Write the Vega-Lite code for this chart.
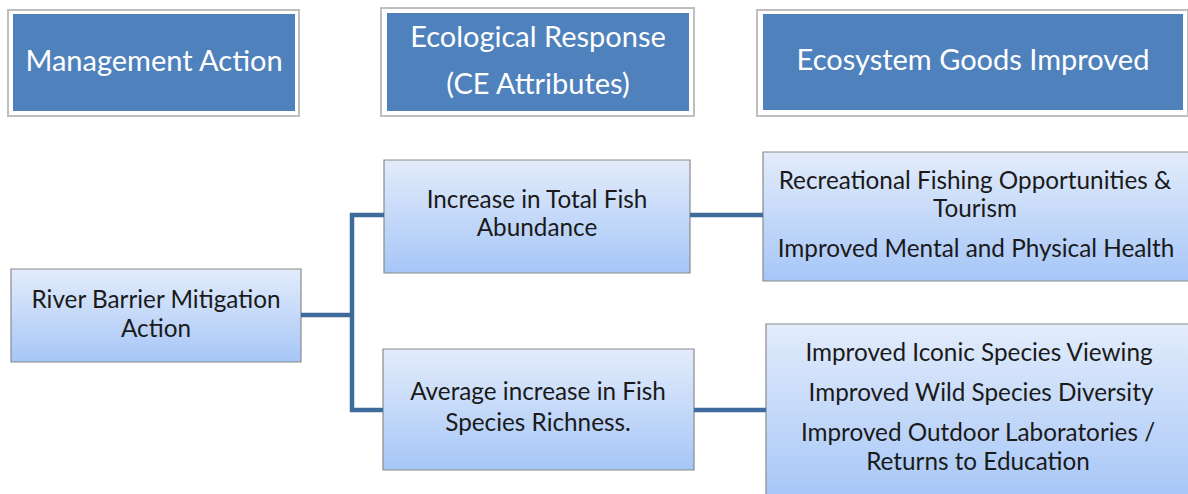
{
  "$schema": "https://vega.github.io/schema/vega-lite/v6.json",
  "width": 1188,
  "height": 494,
  "autosize": {"type": "none"},
  "padding": 0,
  "config": {"view": {"stroke": null}},
  "datasets": {
    "headers": [
      {"id": "h1", "x": 8, "x2": 299, "y": 10, "y2": 116, "ix": 13, "ix2": 295, "iy": 14, "iy2": 111},
      {"id": "h2", "x": 381, "x2": 694, "y": 8, "y2": 116, "ix": 387, "ix2": 689, "iy": 13, "iy2": 111},
      {"id": "h3", "x": 757, "x2": 1188, "y": 10, "y2": 116, "ix": 763, "ix2": 1183, "iy": 14, "iy2": 110}
    ],
    "boxes": [
      {"id": "mitigation", "x": 11, "x2": 301, "y": 269, "y2": 362},
      {"id": "abundance", "x": 384, "x2": 690, "y": 160, "y2": 273},
      {"id": "richness", "x": 383, "x2": 694, "y": 349, "y2": 470},
      {"id": "recreation", "x": 763, "x2": 1190, "y": 152, "y2": 281},
      {"id": "iconic", "x": 766, "x2": 1190, "y": 324, "y2": 500}
    ],
    "links": [
      {"x": 301, "x2": 352, "y": 315, "y2": 315},
      {"x": 352, "x2": 352, "y": 213, "y2": 412},
      {"x": 350, "x2": 384, "y": 215, "y2": 215},
      {"x": 350, "x2": 383, "y": 410, "y2": 410},
      {"x": 690, "x2": 763, "y": 215, "y2": 215},
      {"x": 694, "x2": 766, "y": 410, "y2": 410}
    ],
    "headerText": [
      {"label": "Management Action", "x": 154, "y": 62},
      {"label": "Ecological Response", "x": 538, "y": 38},
      {"label": "(CE Attributes)", "x": 538, "y": 85},
      {"label": "Ecosystem Goods Improved", "x": 973, "y": 61}
    ],
    "boxText": [
      {"label": "River Barrier Mitigation", "x": 156, "y": 301},
      {"label": "Action", "x": 156, "y": 330},
      {"label": "Increase in Total Fish", "x": 537, "y": 201},
      {"label": "Abundance", "x": 537, "y": 229},
      {"label": "Average increase in Fish", "x": 538, "y": 393},
      {"label": "Species Richness.", "x": 538, "y": 424},
      {"label": "Recreational Fishing Opportunities &", "x": 975, "y": 182},
      {"label": "Tourism", "x": 975, "y": 210},
      {"label": "Improved Mental and Physical Health", "x": 976, "y": 250},
      {"label": "Improved Iconic Species Viewing", "x": 979, "y": 354},
      {"label": "Improved Wild Species Diversity", "x": 981, "y": 394},
      {"label": "Improved Outdoor Laboratories /", "x": 978, "y": 434},
      {"label": "Returns to Education", "x": 978, "y": 463}
    ]
  },
  "layer": [
    {
      "data": {"name": "headers"},
      "mark": {"type": "rect", "fill": "#ffffff", "stroke": "#bfbfbf", "strokeWidth": 2},
      "encoding": {
        "x": {"field": "x", "type": "quantitative", "scale": {"domain": [0, 1188], "nice": false, "zero": false}, "axis": null},
        "x2": {"field": "x2"},
        "y": {"field": "y", "type": "quantitative", "scale": {"domain": [0, 494], "nice": false, "zero": false, "reverse": true}, "axis": null},
        "y2": {"field": "y2"}
      }
    },
    {
      "data": {"name": "headers"},
      "mark": {"type": "rect", "fill": "#4f81bd"},
      "encoding": {
        "x": {"field": "ix", "type": "quantitative"},
        "x2": {"field": "ix2"},
        "y": {"field": "iy", "type": "quantitative"},
        "y2": {"field": "iy2"}
      }
    },
    {
      "data": {"name": "boxes"},
      "mark": {"type": "rect", "fill": "#000000", "opacity": 0.18, "xOffset": 2, "yOffset": 3},
      "encoding": {
        "x": {"field": "x", "type": "quantitative"},
        "x2": {"field": "x2"},
        "y": {"field": "y", "type": "quantitative"},
        "y2": {"field": "y2"}
      }
    },
    {
      "data": {"name": "boxes"},
      "mark": {
        "type": "rect",
        "stroke": "#8a8a8a",
        "strokeWidth": 1.2,
        "fill": {
          "gradient": "linear", "x1": 0, "y1": 0, "x2": 0, "y2": 1,
          "stops": [
            {"offset": 0, "color": "#e3ecfb"},
            {"offset": 1, "color": "#a6c6f7"}
          ]
        }
      },
      "encoding": {
        "x": {"field": "x", "type": "quantitative"},
        "x2": {"field": "x2"},
        "y": {"field": "y", "type": "quantitative"},
        "y2": {"field": "y2"}
      }
    },
    {
      "data": {"name": "links"},
      "mark": {"type": "rule", "color": "#3f6b9c", "strokeWidth": 4.5},
      "encoding": {
        "x": {"field": "x", "type": "quantitative"},
        "x2": {"field": "x2"},
        "y": {"field": "y", "type": "quantitative"},
        "y2": {"field": "y2"}
      }
    },
    {
      "data": {"name": "headerText"},
      "mark": {"type": "text", "font": "Lato", "fontSize": 29, "color": "#ffffff", "align": "center", "baseline": "middle"},
      "encoding": {
        "x": {"field": "x", "type": "quantitative"},
        "y": {"field": "y", "type": "quantitative"},
        "text": {"field": "label"}
      }
    },
    {
      "data": {"name": "boxText"},
      "mark": {"type": "text", "font": "Lato", "fontSize": 24.3, "color": "#1a1a1a", "align": "center", "baseline": "middle"},
      "encoding": {
        "x": {"field": "x", "type": "quantitative"},
        "y": {"field": "y", "type": "quantitative"},
        "text": {"field": "label"}
      }
    }
  ]
}
